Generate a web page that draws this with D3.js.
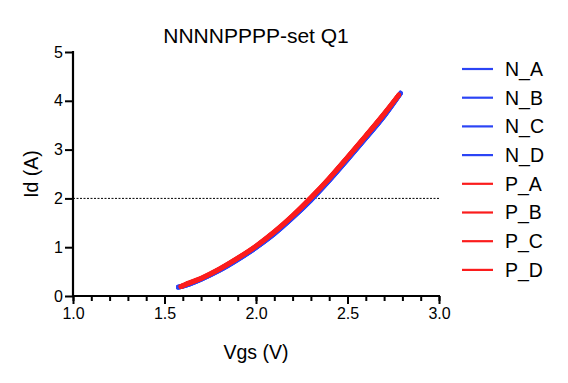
<!DOCTYPE html>
<html>
<head>
<meta charset="utf-8">
<script src="https://cdn.jsdelivr.net/npm/d3@7"></script>
<style>
  body { margin: 0; background: #fff; }
  text { font-family: "Liberation Sans", Arial, sans-serif; fill: #000; }
</style>
</head>
<body>
<svg id="chart" width="568" height="383"></svg>
<script>
// data
var seriesNames = ["N_A", "N_B", "N_C", "N_D", "P_A", "P_B", "P_C", "P_D"];
var vgsN = [1.575, 1.6, 1.7, 1.8, 1.9, 2.0, 2.1, 2.2, 2.3, 2.4, 2.5, 2.6, 2.7, 2.79];
var vgsP = [1.59, 1.6, 1.7, 1.8, 1.9, 2.0, 2.1, 2.2, 2.3, 2.4, 2.5, 2.6, 2.7, 2.78];
var idN_A = [0.18, 0.20, 0.34, 0.53, 0.75, 0.99, 1.28, 1.61, 1.97, 2.37, 2.80, 3.24, 3.69, 4.16];
var idN_B = [0.18, 0.20, 0.34, 0.52, 0.74, 0.99, 1.27, 1.60, 1.96, 2.36, 2.79, 3.23, 3.68, 4.15];
var idN_C = [0.19, 0.21, 0.35, 0.53, 0.75, 1.00, 1.28, 1.61, 1.97, 2.37, 2.80, 3.24, 3.69, 4.16];
var idN_D = [0.18, 0.20, 0.34, 0.52, 0.74, 0.99, 1.27, 1.60, 1.96, 2.36, 2.79, 3.23, 3.68, 4.15];
var idP_A = [0.19, 0.21, 0.36, 0.55, 0.77, 1.02, 1.31, 1.64, 2.01, 2.41, 2.84, 3.28, 3.73, 4.12];
var idP_B = [0.19, 0.21, 0.36, 0.55, 0.78, 1.03, 1.32, 1.65, 2.02, 2.42, 2.85, 3.29, 3.74, 4.12];
var idP_C = [0.20, 0.22, 0.37, 0.56, 0.78, 1.02, 1.31, 1.64, 2.01, 2.41, 2.84, 3.28, 3.73, 4.11];
var idP_D = [0.19, 0.21, 0.36, 0.55, 0.77, 1.02, 1.31, 1.64, 2.01, 2.41, 2.84, 3.28, 3.73, 4.12];
var xTicks = [1.0, 1.5, 2.0, 2.5, 3.0];
var yTicks = [0, 1, 2, 3, 4, 5];
var refLine = 2;

var blue = "#2b44f5", red = "#fb1c1c";
var seriesData = [
  { vgs: vgsN, id: idN_A, color: blue },
  { vgs: vgsN, id: idN_B, color: blue },
  { vgs: vgsN, id: idN_C, color: blue },
  { vgs: vgsN, id: idN_D, color: blue },
  { vgs: vgsP, id: idP_A, color: red },
  { vgs: vgsP, id: idP_B, color: red },
  { vgs: vgsP, id: idP_C, color: red },
  { vgs: vgsP, id: idP_D, color: red }
];
seriesData.forEach(function(s, i) { s.name = seriesNames[i]; });

var svg = d3.select("#chart");
var plotLeft = 73, plotRight = 439, plotTop = 52, plotBottom = 296;

var x = d3.scaleLinear().domain([1, 3]).range([plotLeft, plotRight]);
var y = d3.scaleLinear().domain([0, 5]).range([plotBottom, plotTop]);

// title
svg.append("text")
  .attr("x", (plotLeft + plotRight) / 2).attr("y", 43)
  .attr("text-anchor", "middle")
  .style("font-size", "21px")
  .text("NNNNPPPP-set Q1");

// dotted reference line
svg.append("line")
  .attr("x1", plotLeft).attr("x2", plotRight)
  .attr("y1", y(refLine)).attr("y2", y(refLine))
  .attr("stroke", "#000").attr("stroke-width", 1)
  .attr("stroke-dasharray", "2,1.5");

// curves
var line = d3.line()
  .x(function(d) { return x(d[0]); })
  .y(function(d) { return y(d[1]); })
  .curve(d3.curveMonotoneX);

svg.selectAll(".curve")
  .data(seriesData)
  .enter().append("path")
    .attr("class", "curve")
    .attr("fill", "none")
    .attr("stroke", function(d) { return d.color; })
    .attr("stroke-width", 4.5)
    .attr("stroke-linecap", "round")
    .attr("d", function(d) { return line(d.vgs.map(function(v, i) { return [v, d.id[i]]; })); });

// x axis, minor ticks every 0.1
var xMinor = d3.range(10, 31).map(function(v) { return v / 10; });
var xMinorG = svg.append("g").attr("transform", "translate(0," + plotBottom + ")")
  .call(d3.axisBottom(x).tickValues(xMinor).tickSize(5).tickFormat(""));
xMinorG.select(".domain").remove();
xMinorG.selectAll("line").attr("stroke-width", 2);

var xAxisG = svg.append("g").attr("transform", "translate(0," + plotBottom + ")")
  .call(d3.axisBottom(x).tickValues(xTicks).tickSize(8).tickFormat(d3.format(".1f")));
xAxisG.select(".domain").attr("d", "M" + (plotLeft - 1) + ",0H" + (plotRight + 1)).attr("stroke-width", 2.2);
xAxisG.selectAll("line").attr("stroke-width", 2);
xAxisG.selectAll("text").style("font-size", "16px").attr("y", 10).attr("dy", "0.8em");

// y axis
var yAxisG = svg.append("g").attr("transform", "translate(" + plotLeft + ",0)")
  .call(d3.axisLeft(y).tickValues(yTicks).tickSize(8).tickFormat(d3.format("d")));
yAxisG.select(".domain").attr("d", "M0," + (plotBottom + 1) + "V" + (plotTop - 1)).attr("stroke-width", 2.2);
yAxisG.selectAll("line").attr("stroke-width", 2);
yAxisG.selectAll("text").style("font-size", "16px").attr("x", -10);

// axis titles
svg.append("text")
  .attr("x", (plotLeft + plotRight) / 2).attr("y", 359)
  .attr("text-anchor", "middle")
  .style("font-size", "19.5px")
  .text("Vgs (V)");

svg.append("text")
  .attr("transform", "translate(38," + y(2.5) + ") rotate(-90)")
  .attr("text-anchor", "middle")
  .style("font-size", "19.5px")
  .text("Id (A)");

// legend
var legend = svg.selectAll(".legend")
  .data(seriesData)
  .enter().append("g")
    .attr("class", "legend")
    .attr("transform", function(d, i) { return "translate(462," + (69 + i * 28.7) + ")"; });
legend.append("line")
  .attr("x1", 0).attr("x2", 31)
  .attr("stroke", function(d) { return d.color; })
  .attr("stroke-width", 2.2);
legend.append("text")
  .attr("x", 43).attr("y", 0).attr("dy", "0.35em")
  .style("font-size", "19.5px")
  .text(function(d) { return d.name; });
</script>
</body>
</html>
